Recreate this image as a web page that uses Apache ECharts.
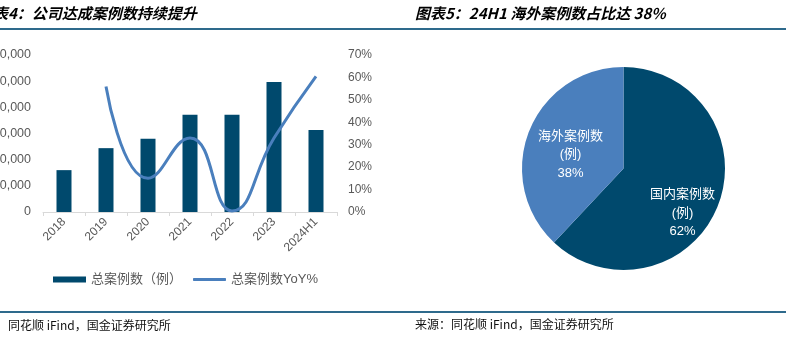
<!DOCTYPE html>
<html><head><meta charset="utf-8">
<script src="https://cdn.jsdelivr.net/npm/echarts@6/dist/echarts.min.js"></script>
<style>html,body{margin:0;padding:0;background:#fff}#c{width:786px;height:349px}</style>
</head><body><div id="c"></div>
<script>
const categories = ['2018','2019','2020','2021','2022','2023','2024H1'];
const caseCounts = [16000, 24400, 28000, 37200, 37200, 49700, 31300];
const caseYoY = [null, 56, 15, 33, 0.5, 33, 60.5];
const leftTicks = [0, 60000, 10000];
const rightTicks = [0, 70, 10];
const pieNames = ['国内案例数\n(例)', '海外案例数\n(例)'];
const pieValues = [62, 38];

const DARK = '#00496d', LIGHT = '#4a7fbd', GRAY = '#595959', RULE = '#2e6a8c';
const FONT = 'Liberation Sans, "Noto Sans CJK SC", sans-serif';
const chart = echarts.init(document.getElementById('c'), null, {renderer:'canvas'});
chart.setOption({
  animation: false,
  textStyle: {fontFamily: FONT},
  graphic: [
    {type:'text', left:-22, top:6, style:{text:'图表4：公司达成案例数持续提升', font:'italic bold 15px "Noto Sans CJK SC"', fill:'#000'}},
    {type:'text', left:415, top:6, style:{text:'图表5：24H1 海外案例数占比达 38%', font:'italic bold 15px "Noto Sans CJK SC"', fill:'#000'}},
    {type:'rect', shape:{x:0, y:28, width:786, height:2}, style:{fill:RULE}},
    {type:'rect', shape:{x:0, y:311, width:786, height:2}, style:{fill:RULE}},
    {type:'text', left:8, top:319, style:{text:'同花顺 iFind，国金证券研究所', font:'12px "Noto Sans CJK SC"', fill:'#111'}},
    {type:'text', left:415, top:318, style:{text:'来源：同花顺 iFind，国金证券研究所', font:'12px "Noto Sans CJK SC"', fill:'#111'}}
  ],
  legend: [
    {left: 53, top: 273, padding: 0, itemWidth: 33, itemHeight: 6,
     textStyle: {color: GRAY, fontSize: 13, fontFamily: FONT},
     data: [{name:'总案例数（例）', icon:'rect'}]},
    {left: 193, top: 273, padding: 0, itemWidth: 33, itemHeight: 3,
     textStyle: {color: GRAY, fontSize: 13, fontFamily: FONT},
     data: [{name:'总案例数YoY%', icon:'roundRect'}]}
  ],
  grid: {left: 43, right: 449, top: 55, bottom: 137, containLabel: false, outerBoundsMode: 'none'},
  xAxis: {
    type: 'category', data: categories,
    axisLine: {lineStyle: {color: '#d9d9d9'}},
    axisTick: {show: true, length: 4, lineStyle: {color: '#d9d9d9'}},
    axisLabel: {rotate: 45, color: GRAY, fontSize: 12, margin: 8, interval: 0}
  },
  yAxis: [
    {type:'value', min: leftTicks[0], max: leftTicks[1], interval: leftTicks[2], splitLine:{show:false},
     axisLine:{show:false}, axisTick:{show:false},
     axisLabel:{color: GRAY, fontSize: 12.5, margin: 12, formatter: v => v.toLocaleString('en-US')}},
    {type:'value', min: rightTicks[0], max: rightTicks[1], interval: rightTicks[2], splitLine:{show:false},
     axisLine:{show:false}, axisTick:{show:false},
     axisLabel:{color: GRAY, fontSize: 12, margin: 11, formatter: '{value}%'}}
  ],
  series: [
    {name:'总案例数（例）', type:'bar', data: caseCounts, barWidth: 15, itemStyle:{color: DARK}},
    {name:'总案例数YoY%', type:'line', yAxisIndex: 1, data: caseYoY, smooth: 0.5, symbol:'none',
     lineStyle:{color: LIGHT, width: 3}, itemStyle:{color: LIGHT}},
    {name:'pie', type:'pie', center:[623.5, 168.5], radius:[0, 101.5], startAngle: 90, clockwise: true,
     data: pieNames.map((n,i)=>({name:n, value:pieValues[i], itemStyle:{color: i===0?DARK:LIGHT}})),
     label: {position:'inside', color:'#fff', fontSize: 13, lineHeight: 18.5, fontFamily: FONT,
             formatter: p => p.name + '\n' + p.percent + '%'},
     labelLine: {show:false},
     labelLayout: p => p.dataIndex === 0 ? {dx: 9, dy: 25} : {dx: -3, dy: 6}
    }
  ]
});
</script></body></html>
